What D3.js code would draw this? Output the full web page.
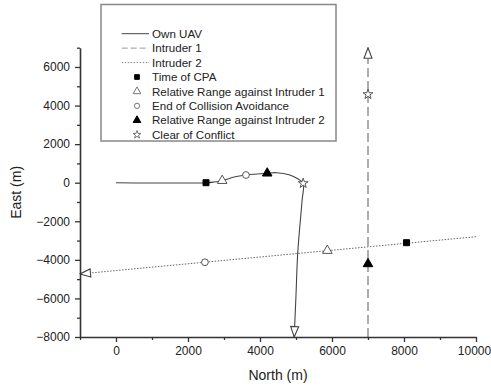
<!DOCTYPE html>
<html>
<head>
<meta charset="utf-8">
<script src="https://cdn.jsdelivr.net/npm/d3@7"></script>
<style>
html,body{margin:0;padding:0;background:#fff;}
svg{display:block;font-family:"Liberation Sans",Arial,sans-serif;}
</style>
</head>
<body>
<svg id="chart" width="491" height="388"></svg>
<script>
// ---- data ----
const ownNorth = [0, 2500, 2720, 2950, 3280, 3610, 3920, 4200, 4460, 4830, 5060, 5200, 5170, 5050, 5000, 4950];
const ownEast  = [0, 0, 35, 105, 295, 400, 450, 490, 520, 400, 190, -30, -900, -3580, -5820, -8000];
const int1North = [7000, 7000];
const int1East  = [-8000, 7000];
const int2North = [10000, -1000];
const int2East  = [-2800, -4730];

const cpaNorth = [2500, 8070], cpaEast = [0, -3110];
const rr1North = [2950, 5870], rr1East = [105, -3520];
const endNorth = [3610, 2470], endEast = [400, -4125];
const rr2North = [4200, 7000], rr2East = [490, -4210];
const clrNorth = [5200, 7000], clrEast = [-30, 4580];

const xTicks = [0, 2000, 4000, 6000, 8000, 10000];
const xMinor = [-1000, 1000, 3000, 5000, 7000, 9000];
const yTicks = [-8000, -6000, -4000, -2000, 0, 2000, 4000, 6000];
const yMinor = [-7000, -5000, -3000, -1000, 1000, 3000, 5000, 7000];

const legendLabels = ["Own UAV", "Intruder 1", "Intruder 2", "Time of CPA",
  "Relative Range against Intruder 1", "End of Collision Avoidance",
  "Relative Range against Intruder 2", "Clear of Conflict"];
const xLabel = "North (m)", yLabel = "East (m)";

// ---- drawing ----
const svg = d3.select("#chart");
const x = d3.scaleLinear().domain([-1000, 10000]).range([80, 476]);
const y = d3.scaleLinear().domain([-8000, 7000]).range([337, 47.7]);

const defs = svg.append("defs");
function arrow(id){
  defs.append("marker").attr("id", id)
    .attr("viewBox", "0 0 12 10").attr("refX", 11.5).attr("refY", 5)
    .attr("markerWidth", 12).attr("markerHeight", 10)
    .attr("markerUnits", "userSpaceOnUse").attr("orient", "auto")
    .append("path").attr("d", "M1,1 L11.5,5 L1,9 Z")
    .attr("fill", "#fff").attr("stroke", "#444").attr("stroke-width", 1.1);
}
arrow("arrowOwn"); arrow("arrowI1"); arrow("arrowI2");

const zip = (a, b) => a.map((v, i) => [v, b[i]]);
const line = d3.line().x(d => x(d[0])).y(d => y(d[1]));
const curve = d3.line().x(d => x(d[0])).y(d => y(d[1])).curve(d3.curveCatmullRom.alpha(0.5));

// intruder 2 (dotted)
svg.append("path").datum(zip(int2North, int2East)).attr("d", line)
  .attr("fill", "none").attr("stroke", "#666").attr("stroke-width", 1)
  .attr("stroke-dasharray", "1.5,1.5").attr("marker-end", "url(#arrowI2)");
// intruder 1 (dashed)
svg.append("path").datum(zip(int1North, int1East)).attr("d", line)
  .attr("fill", "none").attr("stroke", "#777").attr("stroke-width", 1.2)
  .attr("stroke-dasharray", "9,4").attr("marker-end", "url(#arrowI1)");
// own UAV
svg.append("path").datum(zip(ownNorth, ownEast)).attr("d", curve)
  .attr("fill", "none").attr("stroke", "#444").attr("stroke-width", 1.1)
  .attr("marker-end", "url(#arrowOwn)");

// axes
const ax = svg.append("g").attr("transform", `translate(0,${y(-8000)})`)
  .call(d3.axisBottom(x).tickValues(xTicks).tickSize(5).tickSizeOuter(0).tickPadding(4).tickFormat(d3.format("d")));
ax.selectAll(".tick text").filter(d => d === 10000).attr("dx", -2);
svg.append("g").attr("transform", `translate(0,${y(-8000)})`)
  .call(d3.axisBottom(x).tickValues(xMinor).tickSize(3).tickSizeOuter(0).tickFormat(""))
  .select(".domain").remove();
const ay = svg.append("g").attr("transform", `translate(${x(-1000)},0)`)
  .call(d3.axisLeft(y).tickValues(yTicks).tickSize(5).tickSizeOuter(0).tickPadding(5).tickFormat(d3.format("d")));
svg.append("g").attr("transform", `translate(${x(-1000)},0)`)
  .call(d3.axisLeft(y).tickValues(yMinor).tickSize(3).tickSizeOuter(0).tickFormat(""))
  .select(".domain").remove();
svg.selectAll(".domain").attr("stroke", "#333").attr("stroke-width", 1.6);
svg.selectAll(".tick line").attr("stroke", "#333").attr("stroke-width", 1.3);
svg.selectAll(".tick text").attr("font-size", 12).attr("fill", "#222")
  .attr("font-family", "'Liberation Sans',Arial,sans-serif");

svg.append("text").attr("x", 278).attr("y", 380).attr("text-anchor", "middle")
  .attr("font-size", 14).attr("fill", "#222").text(xLabel);
svg.append("text").attr("transform", `translate(21,${(y(-8000)+y(7000))/2}) rotate(-90)`)
  .attr("text-anchor", "middle").attr("font-size", 14).attr("fill", "#222").text(yLabel);

// marker symbols
const sym = {
  square: d3.symbol().type(d3.symbolSquare),
  triangle: d3.symbol().type(d3.symbolTriangle),
  circle: d3.symbol().type(d3.symbolCircle),
  star: d3.symbol().type(d3.symbolStar)
};
function drawMarkers(ns, es, gen, size, fill, stroke){
  svg.append("g").selectAll("path").data(zip(ns, es)).join("path")
    .attr("transform", d => `translate(${x(d[0])},${y(d[1])})`)
    .attr("d", gen.size(size)())
    .attr("fill", fill).attr("stroke", stroke).attr("stroke-width", 1);
}
drawMarkers(cpaNorth, cpaEast, sym.square, 36, "#000", "#000");
drawMarkers(rr1North, rr1East, sym.triangle, 40, "#fff", "#555");
drawMarkers(endNorth, endEast, sym.circle, 36, "#fff", "#555");
drawMarkers(rr2North, rr2East, sym.triangle, 40, "#000", "#000");
drawMarkers(clrNorth, clrEast, sym.star, 30, "#fff", "#555");

// legend
const lg = svg.append("g");
lg.append("rect").attr("x", 101).attr("y", 4.5).attr("width", 235).attr("height", 136.5)
  .attr("fill", "#fff").attr("stroke", "#888").attr("stroke-width", 1.5);
const rowY = i => 33.7 + i * 14.43;
const lineStyles = [["#444", null], ["#999", "6,3"], ["#888", "1.5,1.5"]];
legendLabels.forEach((t, i) => {
  lg.append("text").attr("x", 152).attr("y", rowY(i) + 4.2)
    .attr("font-size", 11.6).attr("fill", "#222").text(t);
});
lineStyles.forEach((s, i) => {
  lg.append("line").attr("x1", 121.7).attr("x2", 149).attr("y1", rowY(i)).attr("y2", rowY(i))
    .attr("stroke", s[0]).attr("stroke-width", 1).attr("stroke-dasharray", s[1]);
});
const legSyms = [[sym.square, 22, "#000", "#000"], [sym.triangle, 26, "#fff", "#777"],
  [sym.circle, 22, "#fff", "#777"], [sym.triangle, 26, "#000", "#000"], [sym.star, 20, "#fff", "#777"]];
legSyms.forEach((s, i) => {
  lg.append("path").attr("transform", `translate(137,${rowY(i + 3)})`)
    .attr("d", s[0].size(s[1])()).attr("fill", s[2]).attr("stroke", s[3]).attr("stroke-width", 1);
});
</script>
</body>
</html>
